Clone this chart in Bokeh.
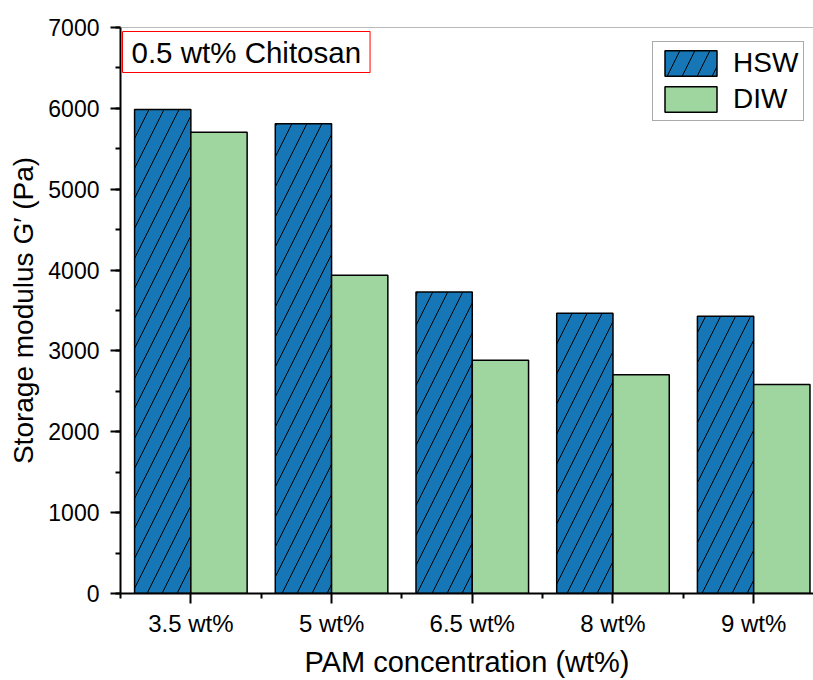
from bokeh.plotting import figure
from bokeh.models import (FixedTicker, Legend, LegendItem, Label, Span, Range1d)
from bokeh.embed import file_html
from bokeh.resources import INLINE
import numpy as np

categories = ["3.5 wt%", "5 wt%", "6.5 wt%", "8 wt%", "9 wt%"]
hsw = [5985, 5810, 3730, 3465, 3430]
diw = [5705, 3935, 2885, 2705, 2585]
y_ticks = [0, 1000, 2000, 3000, 4000, 5000, 6000, 7000]

FONT = "Liberation Sans"
pos = np.arange(1, len(categories) + 1)

p = figure(width=813, height=680, output_backend="svg", toolbar_location=None,
           x_range=Range1d(0.5, 5.425), y_range=Range1d(0, 7000),
           min_border_left=120, min_border_right=0, min_border_top=27,
           min_border_bottom=87)
p.outline_line_color = None
p.grid.visible = False
p.background_fill_color = "white"
p.border_fill_color = "white"

r1 = p.vbar(x=pos - 0.2, top=hsw, width=0.4, fill_color="#1776b5",
            line_color="black", line_width=1.5,
            hatch_pattern="right_diagonal_line", hatch_color="black",
            hatch_scale=30, hatch_weight=1.0)
r2 = p.vbar(x=pos + 0.2, top=diw, width=0.4, fill_color="#9fd69f",
            line_color="black", line_width=1.5)

p.add_layout(Span(location=7000, dimension="width", line_color="#777777", line_width=1))

# axes
p.xaxis.ticker = FixedTicker(ticks=list(pos), minor_ticks=list(np.arange(0.5, 6.0, 1.0)))
p.xaxis.major_label_overrides = {int(k): c for k, c in zip(pos, categories)}
p.yaxis.ticker = FixedTicker(ticks=y_ticks, minor_ticks=list(range(0, 7001, 500)))
for ax in (p.xaxis[0], p.yaxis[0]):
    ax.axis_line_width = 2
    ax.axis_line_color = "black"
    ax.major_tick_line_width = 2
    ax.minor_tick_line_width = 2
    ax.major_tick_line_color = "black"
    ax.minor_tick_line_color = "black"
    ax.major_tick_in = 0
    ax.major_tick_out = 10
    ax.minor_tick_in = 0
    ax.minor_tick_out = 5
    ax.major_label_text_font = FONT
    ax.major_label_text_color = "black"
    ax.axis_label_text_font = FONT
    ax.axis_label_text_font_style = "normal"
    ax.axis_label_text_color = "black"
p.xaxis.major_label_text_font_size = "24px"
p.yaxis.major_label_text_font_size = "23px"
p.xaxis.axis_label_text_font_size = "29px"
p.yaxis.axis_label_text_font_size = "28px"
p.xaxis.axis_label = "PAM concentration (wt%)"
p.yaxis.axis_label = "Storage modulus G\u2032 (Pa)"
p.xaxis.major_label_standoff = 6
p.yaxis.major_label_standoff = 11
p.xaxis.axis_label_standoff = 6
p.yaxis.axis_label_standoff = 6

legend = Legend(items=[LegendItem(label="HSW", renderers=[r1]),
                       LegendItem(label="DIW", renderers=[r2])],
                location="top_right", orientation="vertical",
                glyph_width=65, glyph_height=32, label_text_font=FONT,
                label_text_font_size="28px", label_text_color="black",
                label_height=32, label_standoff=10,
                padding=5, spacing=4, margin=0,
                border_line_color="#555555", border_line_width=1,
                background_fill_color="white", background_fill_alpha=1)
p.add_layout(legend)
legend.location = (532, 472)

p.add_layout(Label(x=0.5, y=7000, x_offset=2, y_offset=-4,
                   text="0.5 wt% Chitosan", text_font=FONT,
                   text_font_size="29.5px", text_color="black",
                   anchor="top_left", text_baseline="top", padding=(9, 4),
                   border_line_color="red", border_line_width=1,
                   background_fill_color="white"))

open("out.html", "w").write(file_html(p, INLINE))
